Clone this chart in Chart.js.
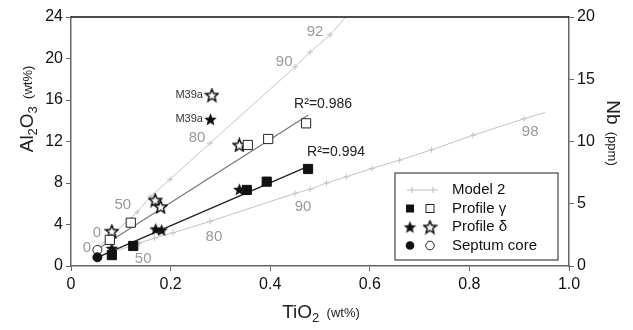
<!DOCTYPE html>
<html>
<head>
<meta charset="utf-8">
<script src="https://cdn.jsdelivr.net/npm/chart.js@4.4.0/dist/chart.umd.min.js"></script>
<style>
  body { margin: 0; background: #fff; }
  #wrap { width: 633px; height: 330px; }
</style>
</head>
<body>
<div id="wrap"><canvas id="chart" width="633" height="330"></canvas></div>
<script>
// Profile gamma: filled = Al2O3 (wt%), open = Nb (ppm)
const gammaTi = [0.082, 0.125, 0.353, 0.393, 0.476];
const gammaAl = [1.05, 1.93, 7.33, 8.13, 9.35];
const gammaNbTi = [0.078, 0.12, 0.355, 0.396, 0.472];
const gammaNb = [2.1, 3.48, 9.72, 10.2, 11.46];

// Profile delta (last point is M39a)
const deltaTi = [0.082, 0.17, 0.182, 0.338, 0.28];
const deltaAl = [1.7, 3.57, 3.47, 7.39, 14.14];
const deltaNbTi = [0.082, 0.169, 0.18, 0.338, 0.283];
const deltaNb = [2.8, 5.3, 4.76, 9.72, 13.73];

// Septum core
const septumTi = [0.053];
const septumAl = [0.84];
const septumNb = [1.29];

// Regression lines (end points)
const fitAlTi = [0.053, 0.476];
const fitAl = [0.84, 9.6];
const fitNbTi = [0.053, 0.476];
const fitNb = [1.35, 12.1];

// Model 2 mixing curves, ticks at mixing %
const modelNbTi = [0.055, 0.133, 0.159, 0.199, 0.279, 0.45, 0.48, 0.52, 0.552];
const modelNb = [1.5, 4.33, 5.57, 6.97, 9.86, 16.0, 17.17, 18.56, 20.0];
const modelAlTi = [0.053, 0.137, 0.168, 0.205, 0.279, 0.45, 0.48, 0.513, 0.553, 0.604, 0.66, 0.724, 0.807, 0.91, 0.952];
const modelAl = [0.85, 2.2, 2.7, 3.2, 4.3, 7.0, 7.4, 8.0, 8.6, 9.4, 10.2, 11.2, 12.6, 14.2, 14.8];

function pts(xs, ys) {
  return xs.map((x, i) => ({ x: x, y: ys[i] }));
}

function makeStar(filled) {
  const size = 15;
  const c = document.createElement('canvas');
  c.width = size; c.height = size;
  const g = c.getContext('2d');
  g.beginPath();
  for (let i = 0; i < 10; i++) {
    const r = i % 2 ? 2.9 : 6.6;
    const a = -Math.PI / 2 + i * Math.PI / 5;
    const px = size / 2 + r * Math.cos(a);
    const py = size / 2 + 0.6 + r * Math.sin(a);
    if (i === 0) g.moveTo(px, py); else g.lineTo(px, py);
  }
  g.closePath();
  if (filled) {
    g.fillStyle = '#111';
    g.fill();
  } else {
    g.fillStyle = '#fff';
    g.fill();
    g.lineWidth = 1.4;
    g.strokeStyle = '#000';
    g.stroke();
  }
  return c;
}
const starFilled = makeStar(true);
const starOpen = makeStar(false);

// gray numbers along the model curves and other notes
const notes = [
  { t: '0', x: 0.052, y: 3.18, size: 15, color: '#9a9a9a' },
  { t: '50', x: 0.104, y: 5.88, size: 15, color: '#9a9a9a' },
  { t: '80', x: 0.253, y: 12.34, size: 15, color: '#9a9a9a' },
  { t: '90', x: 0.428, y: 19.66, size: 15, color: '#9a9a9a' },
  { t: '92', x: 0.49, y: 22.55, size: 15, color: '#9a9a9a' },
  { t: '0', x: 0.032, y: 1.73, size: 15, color: '#9a9a9a' },
  { t: '50', x: 0.145, y: 0.67, size: 15, color: '#9a9a9a' },
  { t: '80', x: 0.287, y: 2.8, size: 15, color: '#9a9a9a' },
  { t: '90', x: 0.466, y: 5.69, size: 15, color: '#9a9a9a' },
  { t: '98', x: 0.922, y: 12.9, size: 15, color: '#9a9a9a' },
  { t: 'M39a', x: 0.265, y: 16.48, size: 11, color: '#333', align: 'right' },
  { t: 'M39a', x: 0.265, y: 14.17, size: 11, color: '#333', align: 'right' },
  { t: 'R²=0.986', x: 0.448, y: 15.6, size: 14, color: '#222', align: 'left' },
  { t: 'R²=0.994', x: 0.474, y: 10.99, size: 14, color: '#222', align: 'left' }
];

const FONT = '"Liberation Sans", Arial, sans-serif';

function drawRich(ctx, parts, cx, cy, rot) {
  ctx.save();
  ctx.translate(cx, cy);
  ctx.rotate(rot);
  ctx.textBaseline = 'middle';
  ctx.textAlign = 'left';
  ctx.fillStyle = '#222';
  let w = 0;
  parts.forEach(p => { ctx.font = p.s + 'px ' + FONT; w += ctx.measureText(p.t).width; });
  let x = -w / 2;
  parts.forEach(p => {
    ctx.font = p.s + 'px ' + FONT;
    ctx.fillText(p.t, x, p.dy || 0);
    x += ctx.measureText(p.t).width;
  });
  ctx.restore();
}

const extras = {
  id: 'extras',
  afterDatasetsDraw(chart) {
    const ctx = chart.ctx;
    const xs = chart.scales.x, ys = chart.scales.y;
    const area = chart.chartArea;

    // top frame line
    ctx.save();
    ctx.strokeStyle = '#111';
    ctx.lineWidth = 1.5;
    ctx.beginPath();
    ctx.moveTo(area.left, area.top);
    ctx.lineTo(area.right, area.top);
    ctx.stroke();

    // notes
    ctx.textBaseline = 'middle';
    notes.forEach(n => {
      ctx.font = n.size + 'px ' + FONT;
      ctx.fillStyle = n.color;
      ctx.textAlign = n.align || 'center';
      ctx.fillText(n.t, xs.getPixelForValue(n.x), ys.getPixelForValue(n.y));
    });

    // legend box
    const lx = area.left + 324, ly = area.top + 156, lw = 163, lh = 87;
    ctx.fillStyle = '#fff';
    ctx.fillRect(lx, ly, lw, lh);
    ctx.strokeStyle = '#444';
    ctx.lineWidth = 1.2;
    ctx.strokeRect(lx, ly, lw, lh);
    const rows = ['Model 2', 'Profile γ', 'Profile δ', 'Septum core'];
    ctx.font = '15px ' + FONT;
    ctx.fillStyle = '#111';
    ctx.textAlign = 'left';
    rows.forEach((r, i) => {
      const ry = ly + 17 + i * 18.5;
      ctx.fillStyle = '#111';
      ctx.fillText(r, lx + 57, ry);
      const fx = lx + 15, ox = lx + 35;
      if (i === 0) {
        ctx.strokeStyle = '#bbb';
        ctx.lineWidth = 1;
        ctx.beginPath();
        ctx.moveTo(lx + 12, ry); ctx.lineTo(lx + 43, ry);
        [lx + 17, lx + 38].forEach(tx => { ctx.moveTo(tx, ry - 3); ctx.lineTo(tx, ry + 3); });
        ctx.stroke();
      } else if (i === 1) {
        ctx.fillStyle = '#111';
        ctx.fillRect(fx - 4, ry - 4, 8, 8);
        ctx.fillStyle = '#fff';
        ctx.strokeStyle = '#222';
        ctx.lineWidth = 1;
        ctx.fillRect(ox - 4, ry - 4, 8, 8);
        ctx.strokeRect(ox - 4, ry - 4, 8, 8);
      } else if (i === 2) {
        ctx.drawImage(starFilled, fx - 7.5, ry - 7.5);
        ctx.drawImage(starOpen, ox - 7.5, ry - 7.5);
      } else {
        ctx.fillStyle = '#111';
        ctx.beginPath(); ctx.arc(fx, ry, 4.3, 0, Math.PI * 2); ctx.fill();
        ctx.fillStyle = '#fff';
        ctx.strokeStyle = '#222';
        ctx.lineWidth = 1;
        ctx.beginPath(); ctx.arc(ox, ry, 4.3, 0, Math.PI * 2); ctx.fill(); ctx.stroke();
      }
    });
    ctx.restore();

    // axis titles
    drawRich(ctx, [{ t: 'Al', s: 19 }, { t: '2', s: 13, dy: 5 }, { t: 'O', s: 19 }, { t: '3', s: 13, dy: 5 }, { t: '  (wt%)', s: 13 }], 28, 109, -Math.PI / 2);
    drawRich(ctx, [{ t: 'Nb', s: 19 }, { t: '  (ppm)', s: 13 }], 612, 133, Math.PI / 2);
    drawRich(ctx, [{ t: 'TiO', s: 19 }, { t: '2', s: 13, dy: 5 }, { t: '  (wt%)', s: 13 }], 321, 313, 0);
  }
};

const tickFont = { family: FONT, size: 16 };

new Chart(document.getElementById('chart').getContext('2d'), {
  type: 'scatter',
  data: {
    datasets: [
      { label: 'Septum Al', data: pts(septumTi, septumAl), yAxisID: 'y', pointStyle: 'circle', pointRadius: 4.5, backgroundColor: '#111', borderColor: '#111' },
      { label: 'Septum Nb', data: pts(septumTi, septumNb), yAxisID: 'y2', pointStyle: 'circle', pointRadius: 4.5, backgroundColor: '#fff', borderColor: '#222', borderWidth: 1 },
      { label: 'gamma Al', data: pts(gammaTi, gammaAl), yAxisID: 'y', pointStyle: 'rect', pointRadius: 6.5, backgroundColor: '#111', borderColor: '#111' },
      { label: 'gamma Nb', data: pts(gammaNbTi, gammaNb), yAxisID: 'y2', pointStyle: 'rect', pointRadius: 6.5, backgroundColor: '#fff', borderColor: '#222', borderWidth: 1 },
      { label: 'delta Al', data: pts(deltaTi, deltaAl), yAxisID: 'y', pointStyle: starFilled },
      { label: 'delta Nb', data: pts(deltaNbTi, deltaNb), yAxisID: 'y2', pointStyle: starOpen },
      { label: 'fit Al', data: pts(fitAlTi, fitAl), yAxisID: 'y', showLine: true, pointRadius: 0, borderColor: '#222', borderWidth: 1.4 },
      { label: 'fit Nb', data: pts(fitNbTi, fitNb), yAxisID: 'y2', showLine: true, pointRadius: 0, borderColor: '#777', borderWidth: 1.2 },
      { label: 'Model Nb', data: pts(modelNbTi, modelNb), yAxisID: 'y2', showLine: true, pointStyle: 'cross', pointRadius: modelNb.map((v, i) => i === modelNb.length - 1 ? 0 : 3), borderColor: '#c4c4c4', borderWidth: 1 },
      { label: 'Model Al', data: pts(modelAlTi, modelAl), yAxisID: 'y', showLine: true, pointStyle: 'cross', pointRadius: modelAl.map((v, i) => i === modelAl.length - 1 ? 0 : 3), borderColor: '#c4c4c4', borderWidth: 1 }
    ]
  },
  options: {
    responsive: false,
    animation: false,
    layout: { padding: { top: 17, left: 0, right: 0, bottom: 0 } },
    plugins: { legend: { display: false }, tooltip: { enabled: false } },
    scales: {
      x: {
        type: 'linear', min: 0, max: 1,
        ticks: { stepSize: 0.2, font: tickFont, color: '#111', padding: 4, callback: v => v === 0 ? '0' : v.toFixed(1) },
        grid: { drawOnChartArea: false, tickLength: 5, color: '#666' },
        border: { color: '#666', width: 1.5 },
        afterFit: s => { s.height = 64; }
      },
      y: {
        position: 'left', min: 0, max: 24,
        ticks: { stepSize: 4, font: tickFont, color: '#111', padding: 3 },
        grid: { drawOnChartArea: false, tickLength: 5, color: '#666' },
        border: { color: '#666', width: 1.5 },
        afterFit: s => { s.width = 71; }
      },
      y2: {
        position: 'right', min: 0, max: 20,
        ticks: { stepSize: 5, font: tickFont, color: '#111', padding: 3 },
        grid: { drawOnChartArea: false, tickLength: 5, color: '#666' },
        border: { color: '#666', width: 1.5 },
        afterFit: s => { s.width = 64; }
      }
    }
  },
  plugins: [extras]
});
</script>
</body>
</html>
